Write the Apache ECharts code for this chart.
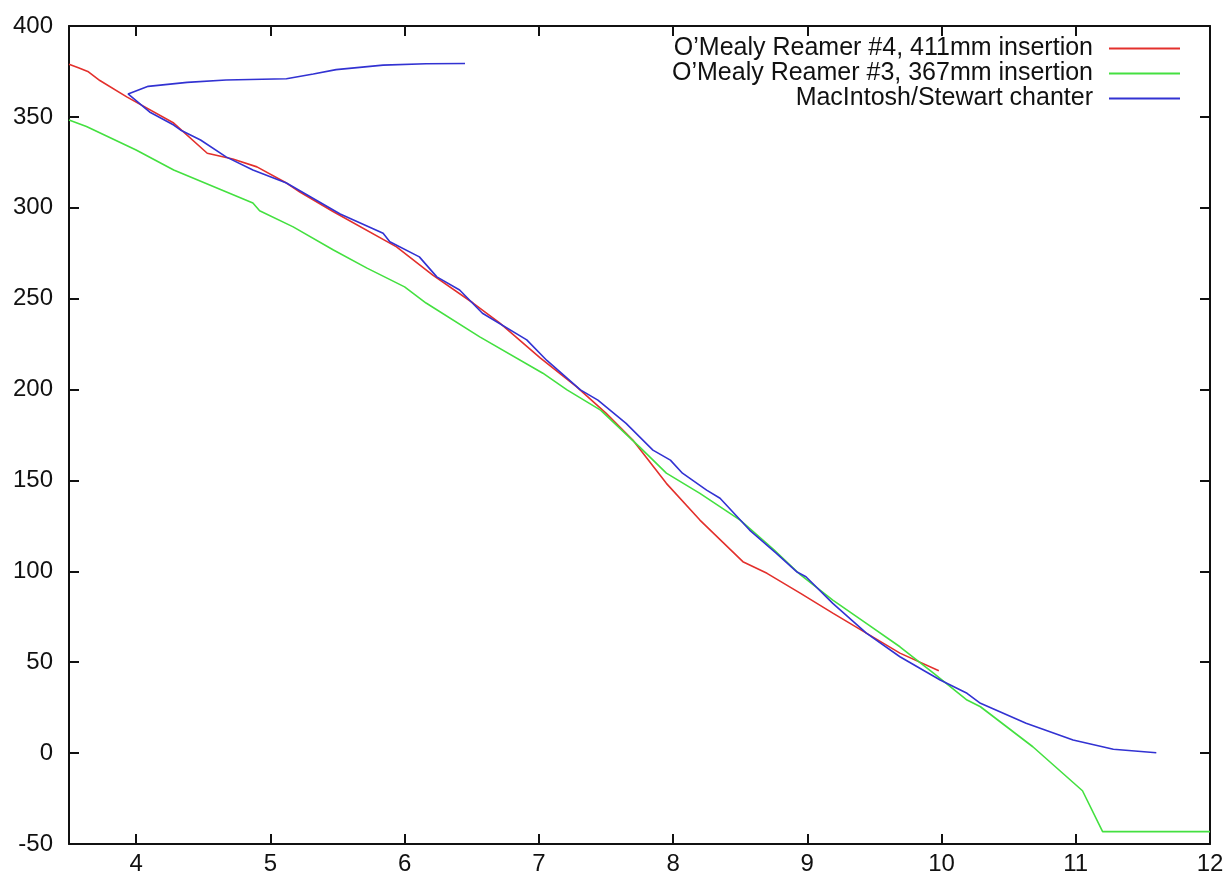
<!DOCTYPE html>
<html>
<head>
<meta charset="utf-8">
<script src="https://cdn.jsdelivr.net/npm/echarts@6/dist/echarts.min.js"></script>
<style>
html,body{margin:0;padding:0;background:#fff;}
#chart{width:1228px;height:878px;}
</style>
</head>
<body>
<div id="chart"></div>
<script>
const seriesNames = ["O\u2019Mealy Reamer #4, 411mm insertion", "O\u2019Mealy Reamer #3, 367mm insertion", "MacIntosh/Stewart chanter"];
const xTicks = [4, 5, 6, 7, 8, 9, 10, 11, 12];
const yTicks = [-50, 0, 50, 100, 150, 200, 250, 300, 350, 400];

const reamer4 = [[3.5,379],[3.57,377],[3.64,375],[3.73,370],[3.93,361],[4.28,346.6],[4.53,330],[4.72,326.8],[4.9,322.5],[5.12,313.6],[5.22,308.7],[5.47,297.8],[5.94,278.5],[6.21,263],[6.51,247.6],[6.71,236.6],[7.01,217.4],[7.28,201.6],[7.5,187],[7.7,172.2],[7.95,148.4],[8.2,128.2],[8.52,105.3],[8.7,98.9],[8.95,87.9],[9.19,77],[9.44,66],[9.69,55],[9.98,45.3]];

const reamer3 = [[3.5,348.3],[3.63,344.7],[4.0,331.8],[4.28,320.8],[4.87,302.6],[4.92,298.4],[5.17,289.5],[5.47,276.8],[5.72,266.8],[6.0,256.5],[6.16,247.6],[6.56,229],[7.03,209],[7.21,199.8],[7.46,188.7],[7.75,168.5],[7.95,154],[8.2,142.9],[8.5,128.2],[8.75,112],[8.95,98],[9.19,84.2],[9.44,71.4],[9.69,58.5],[9.94,44],[10.19,29.2],[10.29,25.5],[10.68,3.5],[11.05,-20.7],[11.2,-43.2],[12.0,-43.2]];

const chanter = [[6.45,379.4],[6.16,379.2],[5.84,378.5],[5.49,376],[5.32,373.6],[5.12,371],[4.67,370.3],[4.38,369],[4.09,366.8],[3.94,362.6],[4.1,352.7],[4.28,345.5],[4.33,342.8],[4.48,337.3],[4.67,328],[4.87,320.8],[5.12,313.6],[5.52,296.6],[5.84,286],[5.89,281.3],[6.11,273],[6.24,262],[6.41,254.8],[6.58,242],[6.91,227.3],[7.06,216],[7.31,199.8],[7.44,194.2],[7.65,181.4],[7.85,166.7],[7.98,161.2],[8.07,154],[8.25,144.7],[8.35,140.2],[8.57,122.7],[8.77,109.9],[8.92,99.8],[8.99,97],[9.19,82.4],[9.44,66],[9.69,53],[9.99,40.2],[10.19,32.9],[10.29,27.4],[10.63,16.4],[10.98,7.2],[11.28,2.1],[11.6,0.2]];

const colors = ['#e3302c', '#44e040', '#3232d2'];
const FONT = 'Liberation Sans';

const chart = echarts.init(document.getElementById('chart'), null, {renderer: 'canvas'});
const axisLineStyle = {color: '#111', width: 2};
const tickCommon = {show: true, inside: true, length: 10, lineStyle: {color: '#111', width: 2}};

chart.setOption({
  animation: false,
  backgroundColor: '#fff',
  textStyle: {fontFamily: FONT},
  grid: {left: 69, top: 26, right: 18, bottom: 34, containLabel: false},
  legend: {
    orient: 'vertical',
    right: 48,
    top: 36,
    align: 'right',
    icon: 'rect',
    itemWidth: 71,
    itemHeight: 2,
    itemGap: 0,
    padding: 0,
    textStyle: {fontFamily: FONT, fontSize: 25, lineHeight: 25, color: '#111', padding: [0, 11, 0, 0]},
    data: seriesNames
  },
  xAxis: [{
    type: 'value', min: 3.5, max: 12, position: 'bottom',
    axisLine: {show: true, onZero: false, lineStyle: axisLineStyle},
    axisTick: Object.assign({customValues: xTicks}, tickCommon),
    axisLabel: {customValues: xTicks, fontFamily: FONT, fontSize: 24, color: '#111', margin: 8},
    splitLine: {show: false}
  }, {
    type: 'value', min: 3.5, max: 12, position: 'top',
    axisLine: {show: true, onZero: false, lineStyle: axisLineStyle},
    axisTick: Object.assign({customValues: xTicks}, tickCommon),
    axisLabel: {show: false},
    splitLine: {show: false}
  }],
  yAxis: [{
    type: 'value', min: -50, max: 400, interval: 50, position: 'left',
    axisLine: {show: true, onZero: false, lineStyle: axisLineStyle},
    axisTick: tickCommon,
    axisLabel: {fontFamily: FONT, fontSize: 24, color: '#111', margin: 16},
    splitLine: {show: false}
  }, {
    type: 'value', min: -50, max: 400, interval: 50, position: 'right',
    axisLine: {show: true, onZero: false, lineStyle: axisLineStyle},
    axisTick: tickCommon,
    axisLabel: {show: false},
    splitLine: {show: false}
  }],
  series: [
    {name: seriesNames[0], type: 'line', data: reamer4, showSymbol: false, symbol: 'none', color: colors[0], lineStyle: {width: 1.6, color: colors[0]}},
    {name: seriesNames[1], type: 'line', data: reamer3, showSymbol: false, symbol: 'none', color: colors[1], lineStyle: {width: 1.6, color: colors[1]}},
    {name: seriesNames[2], type: 'line', data: chanter, showSymbol: false, symbol: 'none', color: colors[2], lineStyle: {width: 1.6, color: colors[2]}}
  ]
});
</script>
</body>
</html>
